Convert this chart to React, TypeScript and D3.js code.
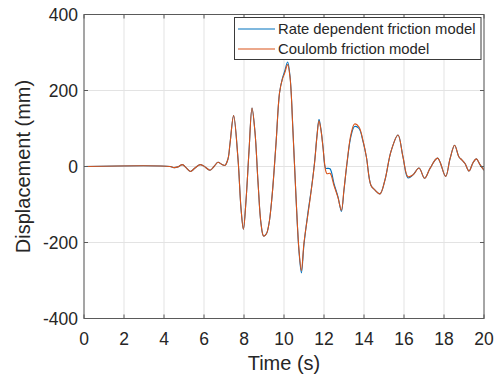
import React from "react";
import * as d3 from "d3";

const timeS = [0, 4.3, 4.5, 4.7, 4.92, 5.1, 5.32, 5.55, 5.8, 6.0, 6.3, 6.5, 6.7, 6.88, 7.05, 7.2, 7.3, 7.48, 7.7, 7.85, 7.97, 8.1, 8.25, 8.4, 8.55, 8.7, 8.85, 8.98, 9.12, 9.25, 9.4, 9.6, 9.78, 9.92, 10.03, 10.18, 10.3, 10.45, 10.6, 10.75, 10.87, 11.0, 11.2, 11.37, 11.53, 11.65, 11.75, 11.85, 11.95, 12.08, 12.15, 12.3, 12.5, 12.7, 12.87, 13.0, 13.15, 13.35, 13.53, 13.75, 13.95, 14.12, 14.35, 14.55, 14.8, 15.05, 15.35, 15.7, 15.95, 16.2, 16.45, 16.75, 17.03, 17.3, 17.68, 18.08, 18.3, 18.53, 18.75, 18.9, 19.05, 19.25, 19.45, 19.62, 19.8, 20.0];

const coulomb = [0, 0, -3, -1, 5, -3, -13, -4, 5, 1, -10, 0, 11, 6, 3, 20, 60, 134, 20, -110, -165, -90, 40, 154, 90, -40, -150, -183, -177, -150, -80, 60, 195, 230, 245, 268, 235, 90, -80, -220, -274, -200, -125, -60, 10, 80, 120, 95, 50, -10, -19, -18, -50, -82, -115, -60, 10, 85, 112, 104, 68, 25, -50, -62, -72, -35, 40, 83, 25, -27, -22, -4, -31, -5, 22, -26, 20, 56, 25, 17, 8, -12, 10, 20, 5, -10];

const rateDependent = [0, 0, -3, -1, 5, -3, -13, -4, 5, 1, -10, 0, 11, 6, 3, 20, 60, 134, 20, -110, -165, -90, 40, 154, 90, -40, -150, -183, -177, -150, -80, 60, 195, 232, 250, 275, 238, 92, -80, -224, -280, -205, -120, -58, 12, 82, 124, 97, 52, -5, -5, -6, -45, -80, -118, -62, 8, 80, 105, 100, 66, 25, -50, -62, -72, -35, 40, 83, 25, -30, -22, -4, -31, -5, 22, -26, 20, 56, 25, 17, 8, -12, 10, 20, 5, -10];

const xTicks = [0, 2, 4, 6, 8, 10, 12, 14, 16, 18, 20];
const yTicks = [-400, -200, 0, 200, 400];
const seriesNames = ["Rate dependent friction model", "Coulomb friction model"];
const seriesColors = ["#0072BD", "#D95319"];

const W = 502;
const H = 380;
const L = 84;
const R = 484;
const T = 14.5;
const B = 318.5;
const FONT = "'Liberation Sans', Arial, Helvetica, sans-serif";
const TEXT = "#262626";

export default function App() {
  const x = d3.scaleLinear().domain([0, 20]).range([L, R]);
  const y = d3.scaleLinear().domain([-400, 400]).range([B, T]);
  const line = d3
    .line<number>()
    .x((_, i) => x(timeS[i]))
    .y((d) => y(d))
    .curve(d3.curveCatmullRom.alpha(0.5));

  const series = [rateDependent, coulomb];

  return (
    <svg
      width={W}
      height={H}
      style={{ position: "absolute", left: 0, top: 0, background: "#fff" }}
      fontFamily={FONT}
    >
      <rect x={0} y={0} width={W} height={H} fill="#fff" />
      {/* grid */}
      {xTicks.map((t) => (
        <line key={"gx" + t} x1={x(t)} x2={x(t)} y1={T} y2={B} stroke="#e3e3e3" strokeWidth={1} />
      ))}
      {yTicks.map((t) => (
        <line key={"gy" + t} x1={L} x2={R} y1={y(t)} y2={y(t)} stroke="#e3e3e3" strokeWidth={1} />
      ))}
      {/* lines */}
      <g clipPath="url(#clip)">
        {series.map((s, i) => (
          <path key={i} d={line(s) || ""} fill="none" stroke={seriesColors[i]} strokeWidth={1.1} strokeLinejoin="round" />
        ))}
      </g>
      <defs>
        <clipPath id="clip">
          <rect x={L} y={T} width={R - L} height={B - T} />
        </clipPath>
      </defs>
      {/* box */}
      <rect x={L} y={T} width={R - L} height={B - T} fill="none" stroke="#5a5a5a" strokeWidth={1} />
      {/* ticks */}
      {xTicks.map((t) => (
        <g key={"tx" + t}>
          <line x1={x(t)} x2={x(t)} y1={B} y2={B - 4} stroke="#5a5a5a" />
          <line x1={x(t)} x2={x(t)} y1={T} y2={T + 4} stroke="#5a5a5a" />
          <text x={x(t)} y={345} textAnchor="middle" fontSize={17.5} fill={TEXT}>
            {t}
          </text>
        </g>
      ))}
      {yTicks.map((t) => (
        <g key={"ty" + t}>
          <line x1={L} x2={L + 4} y1={y(t)} y2={y(t)} stroke="#5a5a5a" />
          <line x1={R} x2={R - 4} y1={y(t)} y2={y(t)} stroke="#5a5a5a" />
          <text x={78} y={y(t)} dy="0.36em" textAnchor="end" fontSize={17.5} fill={TEXT}>
            {t}
          </text>
        </g>
      ))}
      {/* axis labels */}
      <text x={(L + R) / 2} y={370} textAnchor="middle" fontSize={20} fill={TEXT}>
        Time (s)
      </text>
      <text
        transform={`translate(30, ${(T + B) / 2}) rotate(-90)`}
        textAnchor="middle"
        fontSize={20}
        fill={TEXT}
      >
        Displacement (mm)
      </text>
      {/* legend */}
      <rect x={234.5} y={17.5} width={246.5} height={42} fill="#fff" stroke="#3a3a3a" strokeWidth={1} />
      {seriesNames.map((n, i) => (
        <g key={n}>
          <line x1={238} x2={275} y1={29 + i * 20} y2={29 + i * 20} stroke={seriesColors[i]} strokeWidth={1.1} />
          <text x={278} y={29 + i * 20} dy="0.36em" fontSize={14.8} fill={TEXT}>
            {n}
          </text>
        </g>
      ))}
    </svg>
  );
}
